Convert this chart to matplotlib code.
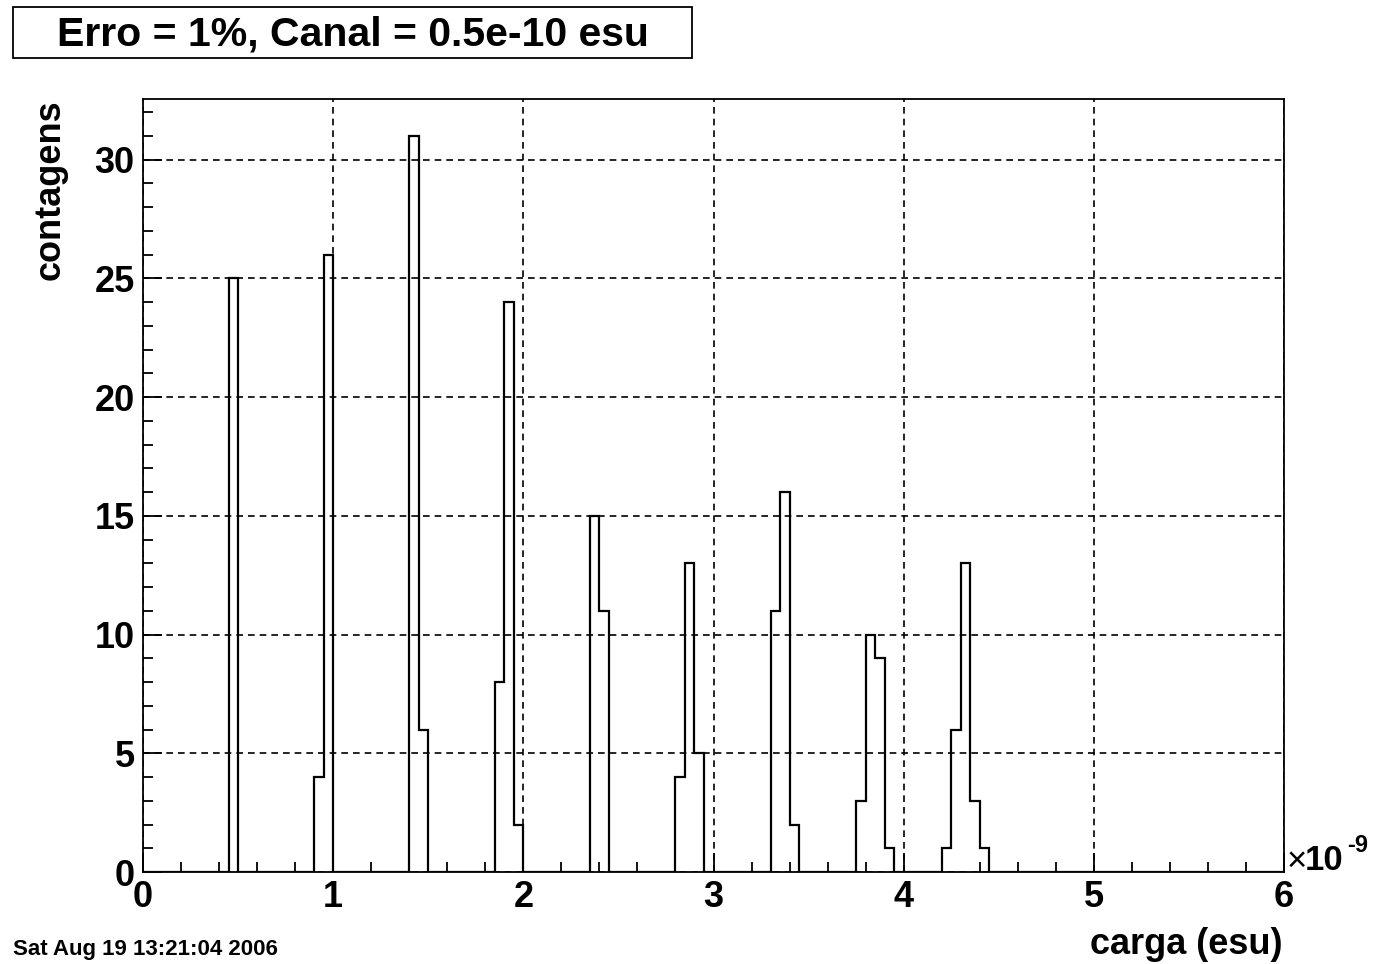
import numpy as np
import matplotlib
matplotlib.use("Agg")
from matplotlib import pyplot as plt
from matplotlib.patches import Rectangle
from matplotlib.ticker import MultipleLocator

plt.rcParams['font.family'] = ['Liberation Sans', 'DejaVu Sans']
plt.rcParams['font.weight'] = 'bold'

# histograma: 120 canais de 0.5e-10 esu entre 0 e 6e-9
n_canais = 120
x_min, x_max = 0.0, 6.0   # unidades de 1e-9 esu
# canais nao vazios (inicio do canal, em 1e-9 esu) e contagens
inicio = [0.45,
          0.90, 0.95,
          1.40, 1.45,
          1.85, 1.90, 1.95,
          2.35, 2.40,
          2.80, 2.85, 2.90,
          3.30, 3.35, 3.40,
          3.75, 3.80, 3.85, 3.90,
          4.20, 4.25, 4.30, 4.35, 4.40]
contagens = [25,
             4, 26,
             31, 6,
             8, 24, 2,
             15, 11,
             4, 13, 5,
             11, 16, 2,
             3, 10, 9, 1,
             1, 6, 13, 3, 1]

titulo = "Erro = 1%, Canal = 0.5e-10 esu"
data_txt = "Sat Aug 19 13:21:04 2006"

bordas = np.linspace(x_min, x_max, n_canais + 1)
h = np.zeros(n_canais)
for x0, c in zip(inicio, contagens):
    h[int(round((x0 - x_min) / (x_max - x_min) * n_canais))] = c

fig = plt.figure(figsize=(13.92, 9.64), dpi=100)
W, H = 1392.0, 964.0
ax = fig.add_axes([143 / W, 1 - 872 / H, 1141 / W, 773 / H])

ax.stairs(h, bordas, color='black', lw=1.6, baseline=0)
ax.set_xlim(x_min, x_max)
ax.set_ylim(0, max(contagens) * 1.05)

ax.xaxis.set_major_locator(MultipleLocator(1))
ax.xaxis.set_minor_locator(MultipleLocator(0.2))
ax.yaxis.set_major_locator(MultipleLocator(5))
ax.yaxis.set_minor_locator(MultipleLocator(1))
ax.tick_params(which='both', direction='in', top=False, right=False,
               width=1.3, labelsize=26, pad=6)
ax.tick_params(which='major', length=14)
ax.tick_params(which='minor', length=7)
for s in ax.spines.values():
    s.set_linewidth(1.3)
ax.grid(True, which='major', color='black', ls=(0, (4, 3)), lw=1.2)
ax.set_axisbelow(False)

fig.text(1282 / W, 1 - 945 / H, "carga (esu)", ha='right', va='center',
         fontsize=26, fontweight='bold')
fig.text(50 / W, 1 - 99 / H, "contagens", ha='center', va='top',
         rotation=90, fontsize=26, fontweight='bold')
# expoente do eixo x
fig.text(1287 / W, 1 - 861 / H, "\u00d7", ha='left', va='center',
         fontsize=25, fontweight='normal')
fig.text(1305 / W, 1 - 860 / H, "10", ha='left', va='center',
         fontsize=25, fontweight='bold')
fig.text(1347 / W, 1 - 845 / H, "-9", ha='left', va='center',
         fontsize=17, fontweight='bold')
fig.text(13 / W, 1 - 950 / H, data_txt, ha='left', va='center',
         fontsize=16, fontweight='bold')

fig.patches.append(Rectangle((13 / W, 1 - 58 / H), 679 / W, 51 / H,
                             transform=fig.transFigure, fill=False,
                             ec='black', lw=1.3))
fig.text(353 / W, 1 - 34 / H, titulo, ha='center', va='center',
         fontsize=29.5, fontweight='bold')

fig.savefig("out.png", dpi=100, facecolor='white')
